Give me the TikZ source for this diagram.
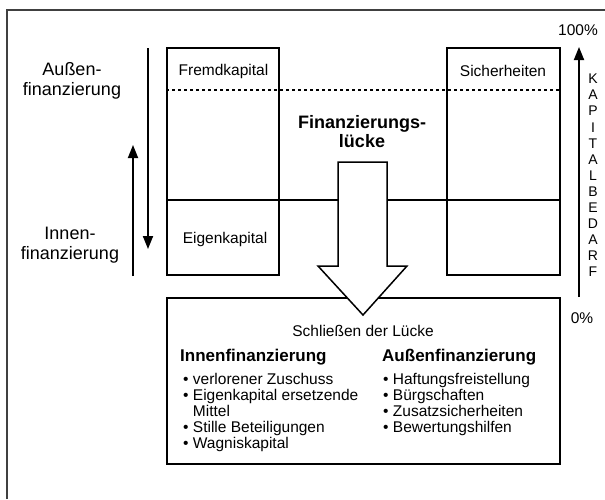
\documentclass[tikz,border=0pt]{standalone}
\usepackage{fontspec}
\setmainfont{Liberation Sans}
\usetikzlibrary{positioning,arrows.meta,calc}

\begin{document}
\begin{tikzpicture}[x=1pt, y=-1pt,
    box/.style={draw, line width=1.6pt, inner sep=0pt},
    lbl/.style={font=\fontsize{15.5}{16}\selectfont, inner sep=0pt},
    side/.style={font=\fontsize{18}{19.5}\selectfont, align=center, inner sep=0pt},
    head/.style={font=\fontsize{17}{18}\selectfont\bfseries, inner sep=0pt, anchor=west},
    liste/.style={font=\fontsize{15.5}{16}\selectfont, align=left, inner sep=0pt, anchor=north west},
    pfeil/.style={-{Triangle[length=13pt,width=10pt]}, line width=1.8pt}]
    \useasboundingbox (0,0) rectangle (605,499);
    \draw[black!75, line width=1.5pt] (7,499) -- (7,10) -- (605,10);

    % Kapitalstruktur
    \node[box, minimum width=112pt, minimum height=227pt] (links) at (223,161.5) {};
    \node[box, minimum width=113pt, minimum height=227pt] (rechts) at (503.5,161.5) {};
    \draw[line width=1.6pt] (links.west |- 0,200) -- (rechts.east |- 0,200);
    \draw[line width=1.8pt, dash pattern=on 3pt off 3pt] (links.west |- 0,90) -- (rechts.east |- 0,90);
    \node[lbl] (fk) at (223.5,71) {Fremdkapital};
    \node[lbl] (ek) at (225,239) {Eigenkapital};
    \node[lbl] (si) at (503,71) {Sicherheiten};

    \node[side] (aussen) at (72,81) {Außen-\\finanzierung};
    \node[side] (innen) at (70,245) {Innen-\\finanzierung};
    \coordinate (ab1) at (148,48);
    \coordinate (ab2) at (148,249);
    \coordinate (auf1) at (133,276);
    \coordinate (auf2) at (133,145);
    \draw[pfeil] (ab1) -- (ab2);
    \draw[pfeil] (auf1) -- (auf2);

    % Kapitalbedarf
    \coordinate (null) at (579,297);
    \coordinate (voll) at (579,47);
    \draw[pfeil] (null) -- (voll);
    \node[lbl] (p100) at (578,30) {100\%};
    \node[lbl] (p0) at (582,318) {0\%};
    \node[font=\fontsize{14}{16.1}\selectfont, align=center, inner sep=0pt] (bedarf) at (593,175.5)
        {K\\A\\P\\I\\T\\A\\L\\B\\E\\D\\A\\R\\F};

    \node[font=\fontsize{18}{19}\selectfont\bfseries, align=center, inner sep=0pt] (luecke) at (362,132)
        {Finanzierungs-\\lücke};

    % Schliessen der Luecke
    \node[box, minimum width=393pt, minimum height=166pt] (schluss) at (363.5,381) {};
    \draw[fill=white, line width=1.5pt] (338,162) -- (387,162) -- (387,266) -- (407,266)
        -- (363,315) -- (318,266) -- (338,266) -- cycle;
    \node[lbl] (titel) at (363,331) {Schließen der Lücke};
    \node[head] (innenfin) at (180,357) {Innenfinanzierung};
    \node[head] (aussenfin) at (382,357) {Außenfinanzierung};
    \node[liste] (innenliste) at (183,373)
        {•~verlorener Zuschuss\\•~Eigenkapital ersetzende\\\hphantom{•~}Mittel\\•~Stille Beteiligungen\\•~Wagniskapital};
    \node[liste] (aussenliste) at (383,373)
        {•~Haftungsfreistellung\\•~Bürgschaften\\•~Zusatzsicherheiten\\•~Bewertungshilfen};
\end{tikzpicture}
\end{document}
